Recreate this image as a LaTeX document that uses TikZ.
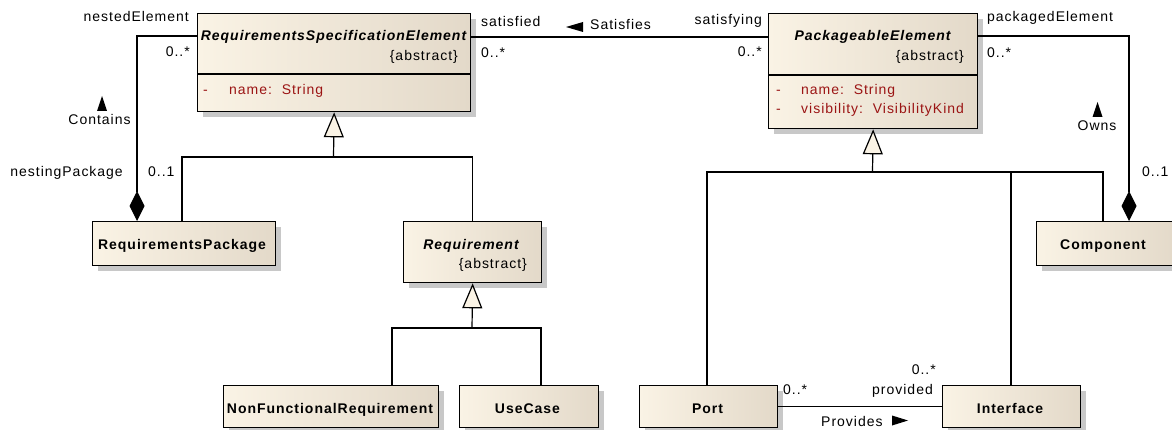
\documentclass[tikz,border=0pt]{standalone}
\usepackage{fontspec}
\setmainfont{Liberation Sans}[LetterSpace=7]
\usetikzlibrary{arrows.meta,shadows}
\definecolor{boxlight}{RGB}{250,243,229}
\definecolor{boxdark}{RGB}{227,217,201}
\definecolor{attrred}{RGB}{155,20,20}
\definecolor{shadowgray}{RGB}{200,200,200}
\begin{document}
\begin{tikzpicture}[x=1pt,y=-1pt,
  classbox/.style={draw, line width=1.3pt, left color=boxlight, right color=boxdark,
    anchor=north west, inner sep=0pt,
    drop shadow={shadow xshift=5pt,shadow yshift=-5pt,fill=shadowgray,opacity=1}},
  wire/.style={line width=1.2pt},
  gen/.style={wire, -{Triangle[length=25pt,width=20pt,fill=boxlight]}},
  owner/.style={wire, -{Diamond[length=30pt,width=15pt]}},
  lbl/.style={font=\fontsize{14}{16}\selectfont, inner sep=0pt},
  cname/.style={font=\fontsize{14}{16}\selectfont\bfseries, inner sep=0pt, anchor=base},
  aname/.style={font=\fontsize{14}{16}\selectfont\bfseries\itshape, inner sep=0pt, anchor=base},
  attr/.style={lbl, text=attrred, anchor=base west},
]
\useasboundingbox (0,0) rectangle (1172,430);
\clip (0,0) rectangle (1172,430);

% ---------- classes ----------
\node[classbox, minimum width=273pt, minimum height=98pt]  (rse)   at (197,13)  {};
\node[classbox, minimum width=209pt, minimum height=115pt] (pe)    at (768,13)  {};
\node[classbox, minimum width=183pt, minimum height=44pt]  (rp)    at (92,221)  {};
\node[classbox, minimum width=138pt, minimum height=61pt]  (req)   at (403,221) {};
\node[classbox, minimum width=215pt, minimum height=42pt]  (nfr)   at (223,385) {};
\node[classbox, minimum width=139pt, minimum height=42pt]  (uc)    at (459,385) {};
\node[classbox, minimum width=138pt, minimum height=42pt]  (port)  at (639,385) {};
\node[classbox, minimum width=138pt, minimum height=42pt]  (iface) at (942,385) {};
\node[classbox, minimum width=140pt, minimum height=44pt]  (cmp)   at (1036,221) {};

% compartment dividers
\draw[line width=1.3pt] (197,74) -- (470,74);
\draw[line width=1.3pt] (768,75) -- (977,75);

% class texts
\node[aname] (rseT) at (333.5,40.5) {RequirementsSpecificationElement};
\node[lbl, anchor=base east] (rseA) at (458,60.5) {\{abstract\}};
\node[attr] (rseV) at (203,95) {-};
\node[attr] (rseN) at (229,95) {name:\ \ String};

\node[aname] (peT) at (872.5,40.5) {PackageableElement};
\node[lbl, anchor=base east] (peA) at (964,60.5) {\{abstract\}};
\node[attr] (peV1) at (776,95) {-};
\node[attr] (peN)  at (801,95) {name:\ \ String};
\node[attr] (peV2) at (776,113.5) {-};
\node[attr] (peVis) at (801,113.5) {visibility:\ \ VisibilityKind};

\node[cname] (rpT)  at (182,250) {RequirementsPackage};
\node[aname] (reqT) at (471,250) {Requirement};
\node[lbl, anchor=base east] (reqA) at (527,269) {\{abstract\}};
\node[cname] (nfrT) at (330,413) {NonFunctionalRequirement};
\node[cname] (ucT)  at (527.5,413) {UseCase};
\node[cname] (portT) at (707.5,413) {Port};
\node[cname] (ifT)  at (1010,413) {Interface};
\node[cname] (cmpT) at (1103,250) {Component};

% ---------- generalizations ----------
\coordinate (j1) at (333.5,157);
\coordinate (j2) at (472,328);
\coordinate (j3) at (872.5,172);
\draw[wire] ([xshift=90pt]rp.north west) |- (j1);
\draw[wire] (req.north) |- (j1);
\draw[gen]  (j1) -- (rse.south);

\draw[wire] ([xshift=169pt]nfr.north west) |- (j2);
\draw[wire] ([xshift=82pt]uc.north west) |- (j2);
\draw[gen]  (j2) -- (req.south);

\draw[wire] ([xshift=68pt]port.north west) |- (j3);
\draw[wire] ([xshift=69pt]iface.north west) |- (j3);
\draw[wire] ([xshift=67pt]cmp.north west) |- (j3);
\draw[gen]  (j3) -- (pe.south);

% ---------- associations ----------
\draw[wire] ([yshift=-24pt]rse.north east) -- ([yshift=-24pt]pe.north west);
\draw[owner] ([yshift=-23pt]rse.north west) -| ([xshift=45pt]rp.north west);
\draw[owner] ([yshift=-23pt]pe.north east) -| ([xshift=93pt]cmp.north west);
\draw[wire] (port.east) -- (iface.west);

% role names and multiplicities
\node[lbl, anchor=base east] (l1) at (189,22) {nestedElement};
\node[lbl, anchor=base east] (l2) at (190,57) {0..*};
\node[lbl, anchor=base] (l3) at (99.5,125) {Contains};
\node[lbl, anchor=base east] (l4) at (123,177) {nestingPackage};
\node[lbl, anchor=base west] (l5) at (148,177) {0..1};

\node[lbl, anchor=base west] (l6) at (481,27) {satisfied};
\node[lbl, anchor=base west] (l7) at (481,58) {0..*};
\node[lbl, anchor=base west] (l8) at (590,30) {Satisfies};
\node[lbl, anchor=base east] (l9) at (762,25) {satisfying};
\node[lbl, anchor=base east] (l10) at (762,57) {0..*};

\node[lbl, anchor=base west] (l11) at (987,22) {packagedElement};
\node[lbl, anchor=base west] (l12) at (987,58) {0..*};
\node[lbl, anchor=base] (l13) at (1097,131) {Owns};
\node[lbl, anchor=base west] (l14) at (1142,177) {0..1};

\node[lbl, anchor=base west] (l15) at (783,394) {0..*};
\node[lbl, anchor=base east] (l16) at (936,374) {0..*};
\node[lbl, anchor=base east] (l17) at (933,394) {provided};
\node[lbl, anchor=base west] (l18) at (821,426) {Provides};

% direction markers of association names
\fill (102,96) -- (107,111) -- (97,111) -- cycle;
\fill (1097.5,102) -- (1102.5,117) -- (1092.5,117) -- cycle;
\fill (566,27) -- (583,22) -- (583,32) -- cycle;
\fill (908,420.5) -- (892,415.5) -- (892,425.5) -- cycle;
\end{tikzpicture}
\end{document}
